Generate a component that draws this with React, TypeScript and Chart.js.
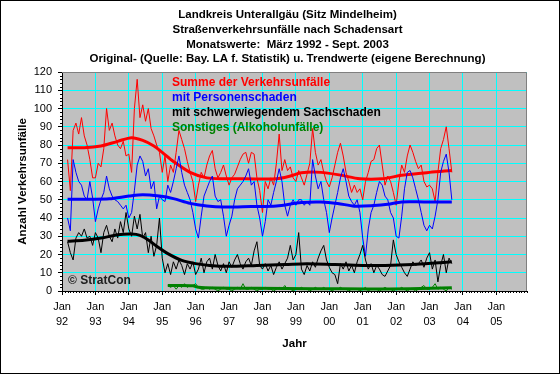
import React, { useEffect, useRef } from 'react';
import { Chart, registerables } from 'chart.js';
Chart.register(...registerables);

const FONT = '"Liberation Sans", Arial, sans-serif';

const titleLines = [
  'Landkreis Unterallgäu (Sitz Mindelheim)',
  'Straßenverkehrsunfälle nach Schadensart',
  'Monatswerte:  März 1992 - Sept. 2003',
  'Original- (Quelle: Bay. LA f. Statistik) u. Trendwerte (eigene Berechnung)',
];
const seriesNames = [
  'Summe der Verkehrsunfälle',
  'mit Personenschaden',
  'mit schwerwiegendem Sachschaden',
  'Sonstiges (Alkoholunfälle)',
];
const seriesColors = ['#FF0000', '#0000FF', '#000000', '#008000'];
const yAxisTitle = 'Anzahl Verkehrsunfälle';
const xAxisTitle = 'Jahr';
const copyright = '© StratCon';

// x axis: months counted from Jan 1992
const yearTickMonths = [0, 12, 24, 36, 48, 60, 72, 84, 96, 108, 120, 132, 144, 156];
const yearLabels = ['92', '93', '94', '95', '96', '97', '98', '99', '00', '01', '02', '03', '04', '05'];
const xMin = 0;
const xMax = 167;
const yMin = 0;
const yMax = 120;
const yStep = 10;

const startMonth = 2; // März 1992
const greenStartMonth = 38; // März 1995

// monthly values, März 1992 .. Sept. 2003
const summe = [
  72, 55, 88, 92, 86, 95, 85, 80, 72, 62,
  62, 70, 68, 78, 100, 88, 92, 85, 80, 78, 82, 74,
  75, 65, 100, 116, 95, 102, 93, 100, 89, 85, 80, 76,
  65, 74, 60, 69, 65, 76, 88, 83, 78, 71, 65, 60,
  49, 58, 65, 62, 69, 74, 77, 67, 62, 65, 69, 63,
  58, 62, 64, 68, 72, 75, 76, 70, 76, 75, 62, 55,
  43, 60, 56, 62, 58, 70, 86, 66, 72, 66, 68, 62,
  60, 66, 62, 58, 64, 70, 89, 76, 69, 72, 65, 60,
  57, 62, 69, 76, 81, 74, 65, 60, 54, 58, 54, 56,
  50, 60, 65, 71, 72, 78, 80, 69, 58, 63, 60, 54,
  47, 60, 69, 65, 74, 80, 76, 71, 67, 69, 60, 57,
  58, 56, 49, 65, 78, 83, 90, 78, 65,
];
const personen = [
  40, 33, 72, 65, 60, 58, 52, 50, 60, 51,
  38, 45, 50, 54, 63, 56, 52, 50, 49, 47, 45, 47,
  40, 43, 55, 69, 74, 71, 63, 67, 56, 60, 45, 52,
  50, 49, 58, 54, 60, 67, 74, 65, 58, 54, 50, 43,
  34, 29, 41, 52, 56, 60, 63, 52, 49, 50, 41, 30,
  36, 41, 50, 56, 58, 60, 63, 67, 58, 60, 47, 40,
  30, 38, 50, 47, 54, 60, 67, 60, 47, 41, 47, 50,
  47, 50, 50, 47, 49, 47, 72, 63, 56, 60, 50, 43,
  32, 40, 47, 54, 62, 67, 60, 52, 49, 47, 50, 43,
  29, 19, 34, 43, 47, 54, 60, 58, 52, 50, 43, 40,
  30, 29, 41, 56, 65, 66, 62, 56, 50, 43, 36, 33,
  36, 34, 41, 50, 65, 71, 75, 65, 50,
];
const sachschaden = [
  27, 21, 17, 29, 32, 30, 34, 29, 30, 25,
  32, 29, 21, 32, 36, 30, 27, 34, 29, 38, 32, 43,
  34, 30, 41, 34, 42, 29, 32, 21, 30, 19, 25, 40,
  18, 10, 15, 9, 16, 12, 17, 14, 9, 15, 12, 16,
  9, 12, 18, 10, 16, 18, 12, 20, 14, 11, 15, 10,
  16, 13, 17, 20, 15, 12, 16, 18, 14, 22, 27, 14,
  12, 15, 11, 14, 9, 13, 16, 12, 15, 18, 25, 17,
  20, 32, 12, 9, 14, 11, 16, 13, 18, 22, 25, 17,
  13, 10, 9, 4, 15, 12, 16, 11, 14, 10, 16, 20,
  25, 17, 12, 15, 10, 14, 12, 9, 8, 11, 14, 28,
  20, 16, 13, 10, 8, 12, 16, 14, 15, 17, 13, 18,
  21, 12, 17, 5, 14, 20, 10, 18, 15,
];
// März 1995 .. Sept. 2003
const sonstiges = [
  3, 2, 3, 1, 3, 2, 4, 2, 3, 3,
  4, 2, 1, 1, 2, 1, 2, 1, 0, 1, 2, 1,
  1, 0, 1, 2, 1, 4, 1, 1, 2, 1, 0, 1,
  1, 2, 1, 1, 0, 1, 2, 1, 3, 1, 1, 0,
  1, 1, 2, 1, 1, 0, 1, 2, 1, 1, 2, 1,
  1, 0, 1, 1, 2, 1, 1, 0, 1, 1, 1, 0,
  1, 2, 0, 1, 1, 1, 0, 1, 2, 1, 1, 0,
  1, 1, 2, 1, 0, 1, 1, 0, 1, 2, 3, 1,
  1, 2, 4, 1, 2, 1, 0, 2, 1,
];

// trend values read at [month, value]
const summeTrend = [
  [2, 78.5], [8, 78.5], [14, 79.5], [20, 82], [25, 84], [29, 82.5], [33, 79.5], [36, 76],
  [40, 71], [46, 65], [52, 62], [58, 61.5], [66, 61.5], [77, 61.5], [82, 63], [86, 64.8],
  [93, 65], [100, 63.5], [107, 61.5], [115, 61.5], [122, 63.4], [132, 65], [140, 66],
];
const personenTrend = [
  [2, 50.3], [10, 50.3], [17, 50.5], [24, 52], [29, 52.8], [35, 52], [40, 50.6], [46, 48],
  [52, 46.6], [58, 46], [68, 46.3], [77, 46.6], [86, 48.5], [93, 48.8], [99, 48], [105, 46.5],
  [112, 46.8], [117, 47.5], [122, 48.8], [130, 48.8], [140, 48.8],
];
const sachschadenTrend = [
  [2, 27.2], [8, 27.8], [14, 29], [20, 30.8], [25, 31.2], [28, 30.5], [31, 28], [34, 24.5],
  [38, 20.5], [43, 16.8], [48, 15], [53, 14], [60, 13.5], [70, 14], [80, 14.5], [88, 15],
  [98, 14.5], [108, 14], [116, 14], [126, 14.5], [134, 15.3], [140, 16],
];
const sonstigesTrend = [
  [38, 3], [47, 2.9], [49, 2], [55, 1.6], [70, 1.5], [90, 1.3], [110, 1.1], [125, 1.3], [140, 1.8],
];

const toPoints = (vals: number[], start: number) => vals.map((v, i) => ({ x: start + i, y: v }));
const trendPoints = (t: number[][]) => t.map(([x, y]) => ({ x, y }));

const customPlugin = {
  id: 'custom',
  beforeDraw(chart: any) {
    const { ctx, chartArea: a } = chart;
    ctx.save();
    ctx.fillStyle = '#FFFFFF';
    ctx.fillRect(0, 0, chart.width, chart.height);
    ctx.fillStyle = '#C0C0C0';
    ctx.fillRect(a.left, a.top, a.right - a.left, a.bottom - a.top);
    ctx.restore();
  },
  afterDraw(chart: any) {
    const { ctx, chartArea: a } = chart;
    const xs = chart.scales.x;
    const ys = chart.scales.y;
    ctx.save();
    // plot frame top/right
    ctx.strokeStyle = '#808080';
    ctx.lineWidth = 1;
    ctx.beginPath();
    ctx.moveTo(a.left, a.top + 0.5);
    ctx.lineTo(a.right - 0.5, a.top + 0.5);
    ctx.lineTo(a.right - 0.5, a.bottom);
    ctx.stroke();
    // minor ticks
    ctx.strokeStyle = '#000000';
    ctx.beginPath();
    for (let m = xMin; m <= xMax; m++) {
      if (m % 12 === 0) continue;
      const px = Math.round(xs.getPixelForValue(m)) + 0.5;
      ctx.moveTo(px, a.bottom);
      ctx.lineTo(px, a.bottom + 2);
    }
    for (let v = yMin; v <= yMax; v += 2) {
      if (v % yStep === 0) continue;
      const py = Math.round(ys.getPixelForValue(v)) + 0.5;
      ctx.moveTo(a.left - 2, py);
      ctx.lineTo(a.left, py);
    }
    ctx.stroke();
    // legend texts
    ctx.font = `bold 12px ${FONT}`;
    ctx.textBaseline = 'middle';
    ctx.textAlign = 'left';
    seriesNames.forEach((n, i) => {
      ctx.fillStyle = seriesColors[i];
      ctx.fillText(n, a.left + 110, a.top + 11 + i * 15);
    });
    // copyright
    ctx.fillStyle = '#202020';
    ctx.fillText(copyright, a.left + 6, a.bottom - 10);
    // titles
    ctx.font = `bold 11.5px ${FONT}`;
    ctx.fillStyle = '#000000';
    ctx.textAlign = 'center';
    titleLines.forEach((t, i) => {
      ctx.fillText(t, 287.5, 15 + i * 14.7);
    });
    // outer frame
    ctx.strokeStyle = '#000000';
    ctx.strokeRect(0.5, 0.5, chart.width - 1, chart.height - 1);
    ctx.restore();
  },
};

export default function App() {
  const ref = useRef<HTMLCanvasElement>(null);
  useEffect(() => {
    if (!ref.current) return;
    const raw = (vals: number[], start: number, color: string, order: number) => ({
      data: toPoints(vals, start),
      borderColor: color,
      backgroundColor: color,
      borderWidth: 1,
      pointRadius: 0,
      tension: 0,
      order,
    });
    const trend = (t: number[][], color: string, order: number) => ({
      data: trendPoints(t),
      borderColor: color,
      backgroundColor: color,
      borderWidth: 3,
      pointRadius: 0,
      tension: 0.3,
      order,
    });
    const chart = new Chart(ref.current, {
      type: 'line',
      data: {
        datasets: [
          raw(summe, startMonth, seriesColors[0], 8),
          trend(summeTrend, seriesColors[0], 7),
          raw(personen, startMonth, seriesColors[1], 6),
          trend(personenTrend, seriesColors[1], 5),
          raw(sachschaden, startMonth, seriesColors[2], 4),
          trend(sachschadenTrend, seriesColors[2], 3),
          raw(sonstiges, greenStartMonth, seriesColors[3], 2),
          trend(sonstigesTrend, seriesColors[3], 1),
        ] as any,
      },
      options: {
        animation: false,
        responsive: false,
        devicePixelRatio: 1,
        layout: { padding: { top: 72, right: 33, bottom: 0, left: 0 } },
        plugins: { legend: { display: false }, tooltip: { enabled: false }, title: { display: false } },
        scales: {
          x: {
            type: 'linear',
            min: xMin,
            max: xMax,
            afterBuildTicks: (s: any) => {
              s.ticks = yearTickMonths.map((v) => ({ value: v }));
            },
            afterFit: (s: any) => {
              s.height = 83;
            },
            ticks: {
              autoSkip: false,
              maxRotation: 0,
              padding: 4.5,
              color: '#000',
              font: { family: FONT, size: 11, lineHeight: 15 / 11 },
              callback: (v: any) => {
                const i = yearTickMonths.indexOf(Number(v));
                return i >= 0 ? ['Jan', yearLabels[i]] : '';
              },
            },
            grid: { color: '#00FFFF', tickColor: '#000000', tickLength: 4, lineWidth: 1 },
            border: { color: '#000000', width: 1 },
            title: {
              display: true,
              text: xAxisTitle,
              color: '#000',
              font: { family: FONT, size: 11.5, weight: 'bold' },
              padding: { top: 0, bottom: 23.5 },
            },
          },
          y: {
            min: yMin,
            max: yMax,
            afterFit: (s: any) => {
              s.width = 62;
            },
            ticks: {
              stepSize: yStep,
              padding: 6,
              color: '#000',
              font: { family: FONT, size: 11 },
            },
            grid: { color: '#00FFFF', tickColor: '#000000', tickLength: 4, lineWidth: 1 },
            border: { color: '#000000', width: 1 },
            title: {
              display: true,
              text: yAxisTitle,
              color: '#000',
              font: { family: FONT, size: 11.5, weight: 'bold' },
              padding: { top: 16, bottom: 0 },
            },
          },
        },
      } as any,
      plugins: [customPlugin],
    });
    return () => chart.destroy();
  }, []);
  return (
    <div style={{ position: 'absolute', left: 0, top: 0, width: 560, height: 374 }}>
      <canvas ref={ref} width={560} height={374} style={{ width: 560, height: 374, display: 'block' }} />
    </div>
  );
}
